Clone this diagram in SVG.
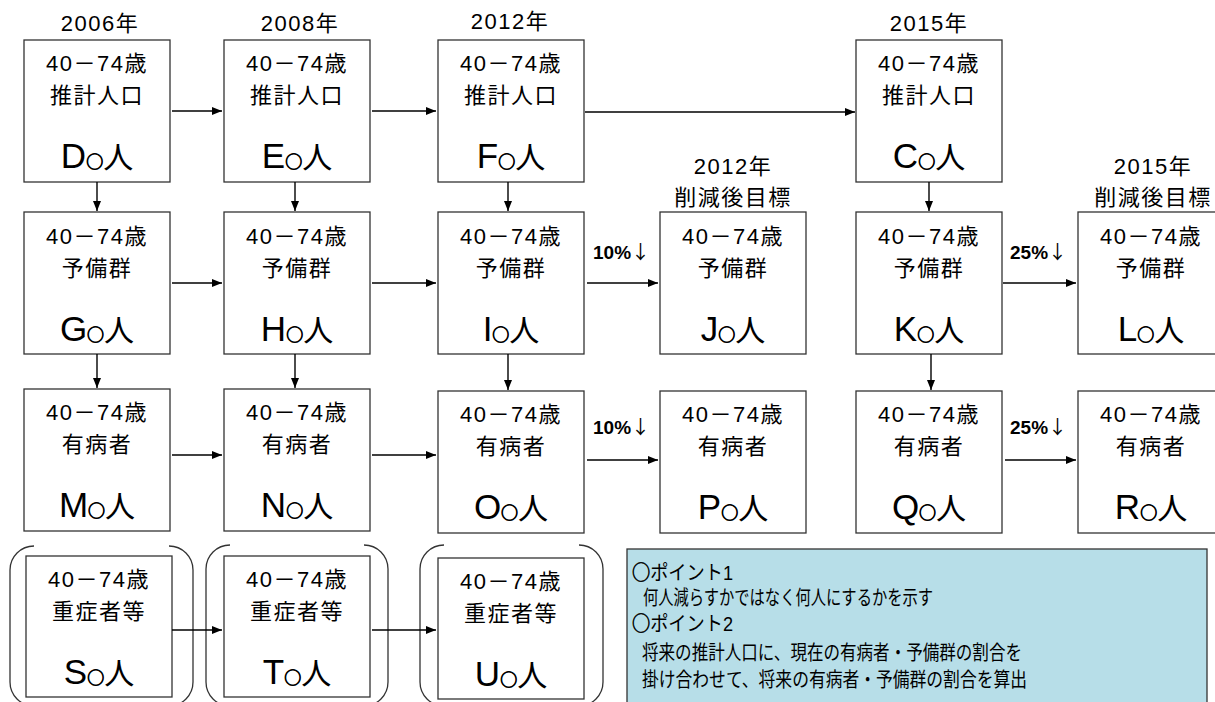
<svg xmlns="http://www.w3.org/2000/svg" width="1215" height="702" viewBox="0 0 1215 702">
<style>
.box{fill:#fff;stroke:#333;stroke-width:1.3}
.t{font-family:"Liberation Sans","Noto Sans CJK JP",sans-serif;fill:#000;text-anchor:middle}
.m{font-size:22px;letter-spacing:1.5px}
.b{font-size:35px}
.s{font-size:17px;font-family:"Noto Sans CJK JP",sans-serif;stroke:#000;stroke-width:0.9}
.p{font-size:30px}
.hd{font-family:"Liberation Sans","Noto Sans CJK JP",sans-serif;font-size:22px;letter-spacing:1.5px;text-anchor:middle;fill:#000}
.pct{font-family:"Liberation Sans","Noto Sans CJK JP",sans-serif;font-size:19px;font-weight:bold;fill:#000}
.ar{font-family:"Noto Sans CJK JP",sans-serif;font-weight:normal;font-size:19px}
.c{stroke:#000;stroke-width:1.4;fill:none;marker-end:url(#ah)}
.br{stroke:#333;stroke-width:1.3;fill:none}
.note{font-family:"Liberation Sans","Noto Sans CJK JP",sans-serif;font-size:20px;fill:#000}
.ci{font-family:"Noto Sans CJK JP",sans-serif;stroke:#000;stroke-width:0.6}
</style>
<defs>
<marker id="ah" markerUnits="userSpaceOnUse" markerWidth="10" markerHeight="8" refX="10" refY="4" orient="auto">
<path d="M0,0 L10,4 L0,8 z" fill="#000"/>
</marker>
</defs>
<rect width="1215" height="702" fill="#fff"/>

<g id="headers">
<text class="hd" x="100" y="31">2006年</text>
<text class="hd" x="300" y="31">2008年</text>
<text class="hd" x="510" y="29">2012年</text>
<text class="hd" x="929" y="31">2015年</text>
<text class="hd" x="733" y="174">2012年</text>
<text class="hd" x="733" y="205">削減後目標</text>
<text class="hd" x="1153" y="174">2015年</text>
<text class="hd" x="1153" y="205">削減後目標</text>
</g>

<g id="node-D"><rect class="box" x="24" y="40" width="146" height="142"/>
<text class="t m" x="97" y="71">40－74歳</text><text class="t m" x="97" y="103">推計人口</text>
<text class="t b" x="97" y="168">D<tspan class="s">○</tspan><tspan class="p">人</tspan></text></g>
<g id="node-E"><rect class="box" x="224" y="40" width="146" height="142"/>
<text class="t m" x="297" y="71">40－74歳</text><text class="t m" x="297" y="103">推計人口</text>
<text class="t b" x="297" y="168">E<tspan class="s">○</tspan><tspan class="p">人</tspan></text></g>
<g id="node-F"><rect class="box" x="438" y="40" width="146" height="142"/>
<text class="t m" x="511" y="71">40－74歳</text><text class="t m" x="511" y="103">推計人口</text>
<text class="t b" x="511" y="168">F<tspan class="s">○</tspan><tspan class="p">人</tspan></text></g>
<g id="node-C"><rect class="box" x="856" y="40" width="146" height="142"/>
<text class="t m" x="929" y="71">40－74歳</text><text class="t m" x="929" y="103">推計人口</text>
<text class="t b" x="929" y="168">C<tspan class="s">○</tspan><tspan class="p">人</tspan></text></g>

<g id="node-G"><rect class="box" x="24" y="212" width="146" height="142"/>
<text class="t m" x="97" y="244">40－74歳</text><text class="t m" x="97" y="276">予備群</text>
<text class="t b" x="97" y="341">G<tspan class="s">○</tspan><tspan class="p">人</tspan></text></g>
<g id="node-H"><rect class="box" x="224" y="212" width="146" height="142"/>
<text class="t m" x="297" y="244">40－74歳</text><text class="t m" x="297" y="276">予備群</text>
<text class="t b" x="297" y="341">H<tspan class="s">○</tspan><tspan class="p">人</tspan></text></g>
<g id="node-I"><rect class="box" x="438" y="212" width="146" height="142"/>
<text class="t m" x="511" y="244">40－74歳</text><text class="t m" x="511" y="276">予備群</text>
<text class="t b" x="511" y="341">I<tspan class="s">○</tspan><tspan class="p">人</tspan></text></g>
<g id="node-J"><rect class="box" x="660" y="212" width="146" height="142"/>
<text class="t m" x="733" y="244">40－74歳</text><text class="t m" x="733" y="276">予備群</text>
<text class="t b" x="733" y="341">J<tspan class="s">○</tspan><tspan class="p">人</tspan></text></g>
<g id="node-K"><rect class="box" x="856" y="212" width="146" height="142"/>
<text class="t m" x="929" y="244">40－74歳</text><text class="t m" x="929" y="276">予備群</text>
<text class="t b" x="929" y="341">K<tspan class="s">○</tspan><tspan class="p">人</tspan></text></g>
<g id="node-L"><rect class="box" x="1078" y="212" width="146" height="142"/>
<text class="t m" x="1151" y="244">40－74歳</text><text class="t m" x="1151" y="276">予備群</text>
<text class="t b" x="1151" y="341">L<tspan class="s">○</tspan><tspan class="p">人</tspan></text></g>

<g id="node-M"><rect class="box" x="24" y="389" width="146" height="142"/>
<text class="t m" x="97" y="420">40－74歳</text><text class="t m" x="97" y="452">有病者</text>
<text class="t b" x="97" y="517">M<tspan class="s">○</tspan><tspan class="p">人</tspan></text></g>
<g id="node-N"><rect class="box" x="224" y="389" width="146" height="142"/>
<text class="t m" x="297" y="420">40－74歳</text><text class="t m" x="297" y="452">有病者</text>
<text class="t b" x="297" y="517">N<tspan class="s">○</tspan><tspan class="p">人</tspan></text></g>
<g id="node-O"><rect class="box" x="438" y="391" width="146" height="142"/>
<text class="t m" x="511" y="422">40－74歳</text><text class="t m" x="511" y="454">有病者</text>
<text class="t b" x="511" y="519">O<tspan class="s">○</tspan><tspan class="p">人</tspan></text></g>
<g id="node-P"><rect class="box" x="660" y="391" width="146" height="142"/>
<text class="t m" x="733" y="422">40－74歳</text><text class="t m" x="733" y="454">有病者</text>
<text class="t b" x="733" y="519">P<tspan class="s">○</tspan><tspan class="p">人</tspan></text></g>
<g id="node-Q"><rect class="box" x="856" y="391" width="146" height="142"/>
<text class="t m" x="929" y="422">40－74歳</text><text class="t m" x="929" y="454">有病者</text>
<text class="t b" x="929" y="519">Q<tspan class="s">○</tspan><tspan class="p">人</tspan></text></g>
<g id="node-R"><rect class="box" x="1078" y="391" width="146" height="142"/>
<text class="t m" x="1151" y="422">40－74歳</text><text class="t m" x="1151" y="454">有病者</text>
<text class="t b" x="1151" y="519">R<tspan class="s">○</tspan><tspan class="p">人</tspan></text></g>

<g id="brackets">
<path class="br" d="M34,546 A24,24 0 0 0 10,570 V682 A24,24 0 0 0 34,706"/>
<path class="br" d="M169,546 A24,24 0 0 1 193,570 V682 A24,24 0 0 1 169,706"/>
<path class="br" d="M230,545 A24,24 0 0 0 206,569 V682 A24,24 0 0 0 230,706"/>
<path class="br" d="M364,545 A24,24 0 0 1 388,569 V682 A24,24 0 0 1 364,706"/>
<path class="br" d="M444,545 A24,24 0 0 0 420,569 V682 A24,24 0 0 0 444,706"/>
<path class="br" d="M579,545 A24,24 0 0 1 603,569 V682 A24,24 0 0 1 579,706"/>
</g>

<g id="node-S"><rect class="box" x="26" y="556" width="146" height="141"/>
<text class="t m" x="99" y="587">40－74歳</text><text class="t m" x="99" y="619">重症者等</text>
<text class="t b" x="99" y="684">S<tspan class="s">○</tspan><tspan class="p">人</tspan></text></g>
<g id="node-T"><rect class="box" x="224" y="556" width="146" height="141"/>
<text class="t m" x="297" y="587">40－74歳</text><text class="t m" x="297" y="619">重症者等</text>
<text class="t b" x="297" y="684">T<tspan class="s">○</tspan><tspan class="p">人</tspan></text></g>
<g id="node-U"><rect class="box" x="438" y="558" width="146" height="141"/>
<text class="t m" x="511" y="589">40－74歳</text><text class="t m" x="511" y="621">重症者等</text>
<text class="t b" x="511" y="686">U<tspan class="s">○</tspan><tspan class="p">人</tspan></text></g>

<g id="connectors">
<line class="c" x1="172" y1="111" x2="222" y2="111"/>
<line class="c" x1="372" y1="111" x2="436" y2="111"/>
<line class="c" x1="585" y1="112" x2="855" y2="112"/>
<line class="c" x1="97" y1="182" x2="97" y2="211"/>
<line class="c" x1="295" y1="182" x2="295" y2="211"/>
<line class="c" x1="508" y1="182" x2="508" y2="211"/>
<line class="c" x1="929" y1="182" x2="929" y2="211"/>
<line class="c" x1="172" y1="283" x2="222" y2="283"/>
<line class="c" x1="372" y1="283" x2="436" y2="283"/>
<line class="c" x1="587" y1="283" x2="658" y2="283"/>
<line class="c" x1="1003" y1="283" x2="1076" y2="283"/>
<line class="c" x1="97" y1="354" x2="97" y2="388"/>
<line class="c" x1="295" y1="354" x2="295" y2="388"/>
<line class="c" x1="508" y1="354" x2="508" y2="390"/>
<line class="c" x1="931" y1="354" x2="931" y2="390"/>
<line class="c" x1="172" y1="455" x2="222" y2="455"/>
<line class="c" x1="372" y1="455" x2="436" y2="455"/>
<line class="c" x1="587" y1="460" x2="658" y2="460"/>
<line class="c" x1="1005" y1="460" x2="1076" y2="460"/>
<line class="c" x1="172" y1="630" x2="222" y2="630"/>
<line class="c" x1="372" y1="630" x2="436" y2="630"/>
<text class="pct" x="593" y="259">10%<tspan class="ar">↓</tspan></text>
<text class="pct" x="593" y="434">10%<tspan class="ar">↓</tspan></text>
<text class="pct" x="1010" y="259">25%<tspan class="ar">↓</tspan></text>
<text class="pct" x="1010" y="434">25%<tspan class="ar">↓</tspan></text>
</g>

<g id="note">
<rect x="627" y="549" width="580" height="160" fill="#B7DEE8" stroke="#333" stroke-width="1.3"/>
<text class="note" x="632" y="580" textLength="101" lengthAdjust="spacingAndGlyphs"><tspan class="ci">○</tspan>ポイント1</text>
<text class="note" x="643" y="605" textLength="290" lengthAdjust="spacingAndGlyphs">何人減らすかではなく何人にするかを示す</text>
<text class="note" x="632" y="631" textLength="101" lengthAdjust="spacingAndGlyphs"><tspan class="ci">○</tspan>ポイント2</text>
<text class="note" x="642" y="660" textLength="380" lengthAdjust="spacingAndGlyphs">将来の推計人口に、現在の有病者・予備群の割合を</text>
<text class="note" x="642" y="687" textLength="385" lengthAdjust="spacingAndGlyphs">掛け合わせて、将来の有病者・予備群の割合を算出</text>
</g>
</svg>
